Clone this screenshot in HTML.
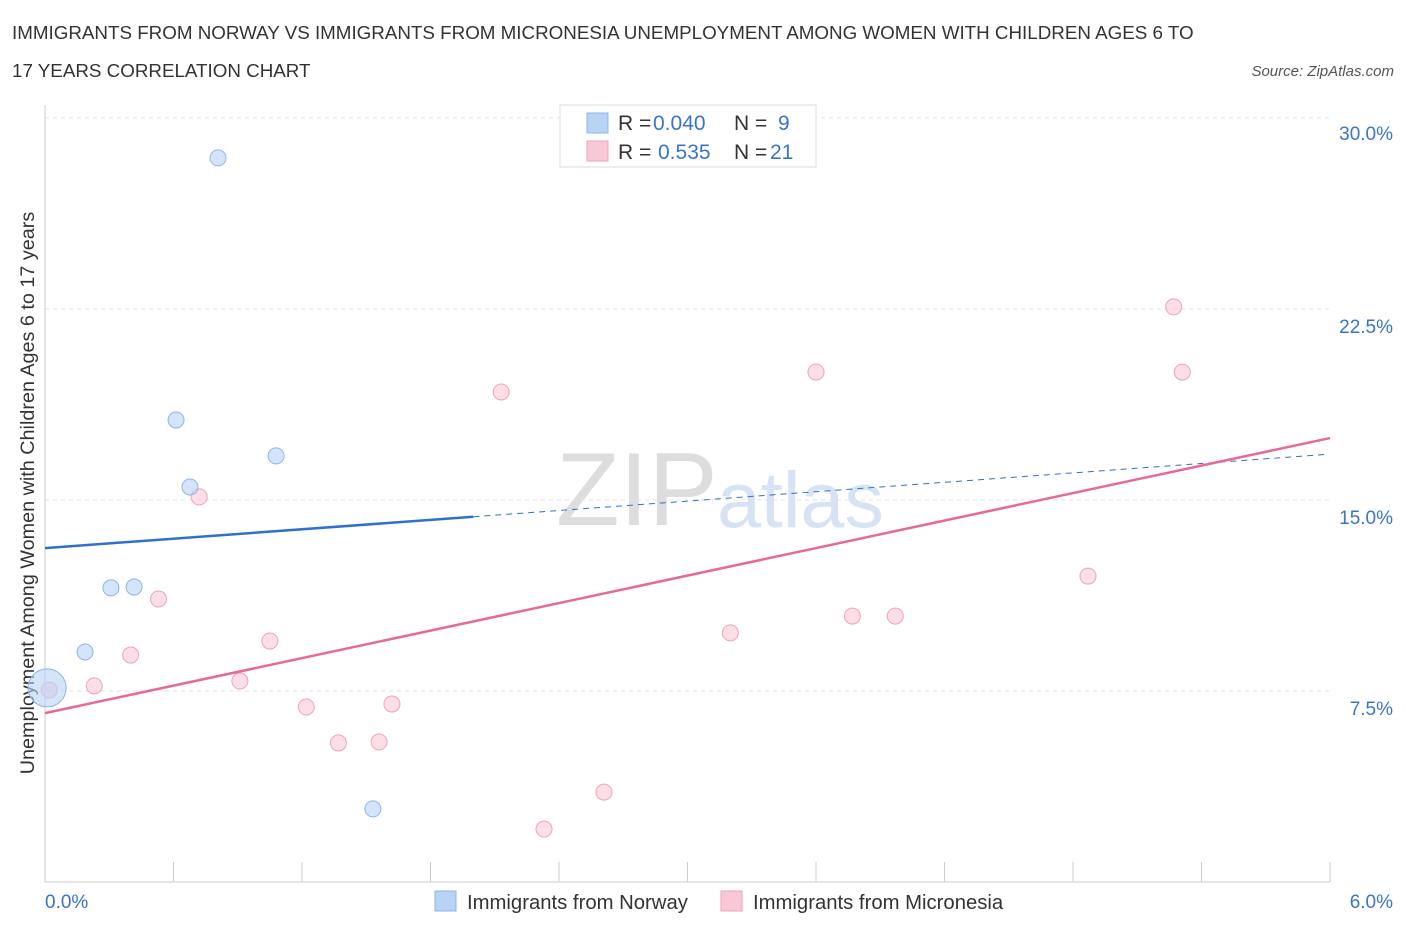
<!DOCTYPE html>
<html><head><meta charset="utf-8"><style>
body{margin:0;background:#fff;font-family:"Liberation Sans",sans-serif;}
svg text{font-family:"Liberation Sans",sans-serif;}
</style></head><body>
<svg id="c" width="1406" height="930" xmlns="http://www.w3.org/2000/svg">
<text x="12" y="39" font-size="18.8" fill="#333">IMMIGRANTS FROM NORWAY VS IMMIGRANTS FROM MICRONESIA UNEMPLOYMENT AMONG WOMEN WITH CHILDREN AGES 6 TO</text>
<text x="12" y="77" font-size="18.8" fill="#333">17 YEARS CORRELATION CHART</text>
<text x="1394" y="76" font-size="15" fill="#555" font-style="italic" text-anchor="end">Source: ZipAtlas.com</text>
<text x="556" y="525" font-size="104" fill="#ddd" font-family="Liberation Serif">ZIP</text>
<text x="717" y="527" font-size="79" fill="#d6e3f5">atlas</text>
<text transform="translate(34,493) rotate(-90)" font-size="19.8" fill="#333" text-anchor="middle">Unemployment Among Women with Children Ages 6 to 17 years</text>
<g id="grid"></g><g id="marks"></g>
<rect x="560" y="105" width="256" height="62" fill="#fff" stroke="#ddd"/>
<rect x="587" y="113" width="21" height="20" fill="#b9d3f5" stroke="#8db4ea"/>
<rect x="587" y="141" width="21" height="20" fill="#f9c8d6" stroke="#eea3bb"/>
<text x="618" y="130" font-size="21" fill="#333"><tspan>R = </tspan><tspan fill="#3a74c8" x="653">0.040</tspan><tspan x="734">N = </tspan><tspan fill="#3a74c8" x="778">9</tspan></text>
<text x="618" y="159" font-size="21" fill="#333"><tspan>R = </tspan><tspan fill="#3a74c8" x="658">0.535</tspan><tspan x="734">N = </tspan><tspan fill="#3a74c8" x="770">21</tspan></text>
<rect x="435" y="891" width="21" height="20" fill="#b9d3f5" stroke="#8db4ea"/>
<text x="467" y="909" font-size="20.3" fill="#333">Immigrants from Norway</text>
<rect x="721" y="891" width="21" height="20" fill="#f9c8d6" stroke="#eea3bb"/>
<text x="753" y="909" font-size="20.3" fill="#333">Immigrants from Micronesia</text>
<text x="45" y="908" font-size="19" fill="#3a74c8">0.0%</text>
<text x="1393" y="908" font-size="19" fill="#3a74c8" text-anchor="end">6.0%</text>
</svg>
<script>
const norwayX=[0.808,0.612,1.079,0.677,0.308,0.416,0.187,0.01,1.531];
const norwayY=[28.43,18.14,16.73,15.51,11.55,11.58,9.03,7.62,2.87];
const micX=[5.27,3.60,5.31,2.13,0.72,4.87,0.53,3.77,3.97,3.20,1.05,0.40,0.23,0.91,1.22,1.62,1.37,1.56,2.61,2.33,0.02];
const micY=[22.58,20.02,20.02,19.24,15.12,12.01,11.11,10.44,10.44,9.78,9.46,8.91,7.70,7.89,6.87,6.99,5.46,5.50,3.53,2.08,7.54];
const yTicks=[7.5,15.0,22.5,30.0];
const norwayTrend=[13.11,16.80];
const micTrend=[6.63,17.43];
const sx=v=>45+v*214.17, sy=v=>882-v*25.47;
const NS="http://www.w3.org/2000/svg";
const g=document.getElementById('grid'), m=document.getElementById('marks');
function mk(p,tag,a){const e=document.createElementNS(NS,tag);for(const k in a)e.setAttribute(k,a[k]);p.appendChild(e);return e;}
yTicks.forEach(t=>{
 const l=mk(g,'line',{x1:45,x2:1330,y1:sy(t),y2:sy(t),stroke:'#e2e2e2','stroke-dasharray':'4,4'});
 
 
 const tx=mk(g,'text',{x:1393,y:sy(t)+(t==30?22:24),'font-size':19,fill:'#3a74c8','text-anchor':'end'});
 tx.textContent=t.toFixed(1)+'%';
 
 
});
mk(g,'line',{x1:45,x2:45,y1:105,y2:882,stroke:'#ccc'});
mk(g,'line',{x1:45,x2:1330,y1:882,y2:882,stroke:'#ccc'});
for(let i=0;i<=10;i++){const x=sx(i*0.6);const t=mk(g,'line',{x1:x,x2:x,y1:862,y2:882,stroke:'#ccc'});
 
 }
micX.forEach((x,i)=>{const c=mk(m,'circle',{cx:sx(x),cy:sy(micY[i]),r:8,fill:'#f9c8d6','fill-opacity':0.6,stroke:'#eea3bb'});
 
 });
norwayX.forEach((x,i)=>{const c=mk(m,'circle',{cx:sx(x),cy:sy(norwayY[i]),r:i==7?19:8,fill:'#b9d3f5','fill-opacity':0.6,stroke:'#8db4ea'});
 
 });
const bAt=x=>norwayTrend[0]+(norwayTrend[1]-norwayTrend[0])*x/6;
let l1=mk(m,'line',{x1:sx(0),y1:sy(bAt(0)),x2:sx(2),y2:sy(bAt(2)),stroke:'#2f6fd0','stroke-width':2.5});


let l2=mk(m,'line',{x1:sx(2),y1:sy(bAt(2)),x2:sx(5.98),y2:sy(bAt(5.98)),stroke:'#2f6fd0','stroke-width':1,'stroke-dasharray':'6,5'});


let l3=mk(m,'line',{x1:sx(0),y1:sy(micTrend[0]),x2:sx(6),y2:sy(micTrend[1]),stroke:'#e8689a','stroke-width':2.5});


</script>
</body></html>
